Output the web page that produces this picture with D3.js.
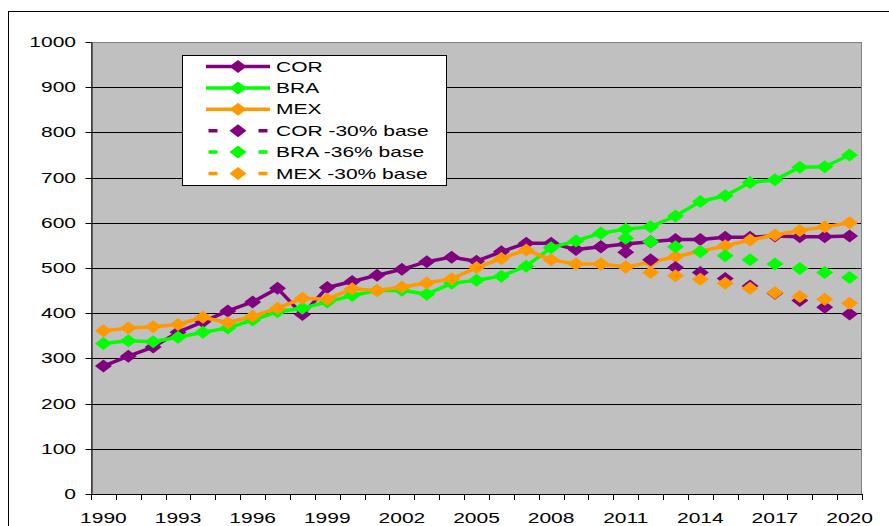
<!DOCTYPE html>
<html><head><meta charset="utf-8">
<script src="https://cdn.jsdelivr.net/npm/d3@7"></script>
<style>html,body{margin:0;padding:0;background:#fff;overflow:hidden}svg{display:block}</style>
</head><body><svg id="c" width="889" height="526"></svg>
<script>
const years = d3.range(1990, 2021);
const xTickLabels = [1990,1993,1996,1999,2002,2005,2008,2011,2014,2017,2020];
const yTicks = [0,100,200,300,400,500,600,700,800,900,1000];
const corValues = [283,305,325,358,381,405,425,455,397,457,470,484,497,514,524,515,536,555,555,541,547,553,558,563,563,568,568,571,569,569,571];
const braValues = [333,339,337,347,358,367,385,403,411,425,439,450,451,442,466,473,482,504,545,560,577,586,591,615,647,660,689,695,723,724,750];
const mexValues = [361,367,370,375,391,379,393,411,433,431,454,450,458,467,476,501,521,540,518,509,509,502,513,525,537,549,562,573,583,591,600];
const scenYears = d3.range(2010, 2021);
const cor30Values = [547,535,518,501,490,477,460,444,428,413,398];
const bra36Values = [577,566,558,547,536,527,518,509,499,490,479];
const mex30Values = [509,502,490,483,475,466,455,445,437,431,422];

const series = [
  {name:"COR", color:"#800080", dashed:false, years:years, values:corValues},
  {name:"BRA", color:"#00FF00", dashed:false, years:years, values:braValues},
  {name:"MEX", color:"#FF9900", dashed:false, years:years, values:mexValues},
  {name:"COR -30% base", color:"#800080", dashed:true, years:scenYears, values:cor30Values},
  {name:"BRA -36% base", color:"#00FF00", dashed:true, years:scenYears, values:bra36Values},
  {name:"MEX -30% base", color:"#FF9900", dashed:true, years:scenYears, values:mex30Values}
];

const svg = d3.select("#c");
const L = 91, R = 862, T = 42, B = 494;
const FONT = "'Liberation Sans', Arial, sans-serif";
const x = d3.scaleBand().domain(years).range([L, R]).padding(0);
const y = d3.scaleLinear().domain([0, 1000]).range([B, T]);
const cx = yr => x(yr) + x.bandwidth() / 2;

// outer chart border
svg.append("rect").attr("x", 8.5).attr("y", 11.5).attr("width", 1000).attr("height", 1000)
  .attr("fill", "#fff").attr("stroke", "#000").attr("stroke-width", 1);

// plot area
svg.append("rect").attr("x", L).attr("y", T).attr("width", R - L).attr("height", B - T)
  .attr("fill", "#C0C0C0");

// gridlines
svg.append("g").selectAll("line").data(yTicks.filter(d => d > 0 && d < 1000)).join("line")
  .attr("x1", L).attr("x2", R)
  .attr("y1", d => Math.round(y(d)) + 0.5).attr("y2", d => Math.round(y(d)) + 0.5)
  .attr("stroke", "#000").attr("stroke-width", 1);

svg.append("rect").attr("x", L + 0.5).attr("y", T + 0.5).attr("width", R - L - 1).attr("height", B - T)
  .attr("fill", "none").attr("stroke", "#808080").attr("stroke-width", 1);

// y axis
const yAxisG = svg.append("g").attr("transform", `translate(${L + 0.5},0)`);
yAxisG.call(d3.axisLeft(y).tickValues(yTicks).tickSize(6).tickSizeOuter(0).tickFormat(d3.format("d")));
yAxisG.select(".domain").attr("stroke", "#000");
yAxisG.selectAll(".tick").attr("transform", d => `translate(0,${Math.round(y(d)) + 0.5})`);
yAxisG.selectAll(".tick line").attr("stroke", "#000");
yAxisG.selectAll(".tick text").remove();
svg.append("g").selectAll("text").data(yTicks).join("text")
  .attr("transform", d => `translate(76,${y(d) + 5}) scale(1.5,1)`)
  .attr("text-anchor", "end").attr("font-family", FONT).attr("font-size", 14).attr("fill", "#000")
  .text(d => d);

// x axis
svg.append("line").attr("x1", L).attr("x2", R).attr("y1", B + 0.5).attr("y2", B + 0.5).attr("stroke", "#000");
const boundaries = years.map(d => x(d)).concat([R]);
svg.append("g").selectAll("line").data(boundaries).join("line")
  .attr("x1", d => Math.round(d) + 0.5).attr("x2", d => Math.round(d) + 0.5)
  .attr("y1", B).attr("y2", B + 6).attr("stroke", "#000");
svg.append("g").selectAll("text").data(xTickLabels).join("text")
  .attr("transform", d => `translate(${cx(d)},523) scale(1.5,1)`)
  .attr("text-anchor", "middle").attr("font-family", FONT).attr("font-size", 14).attr("fill", "#000")
  .text(d => d);

// diamond marker path
const HW = 8.5, HH = 6.5;
const diamond = `M0,${-HH}L${HW},0L0,${HH}L${-HW},0Z`;
const line = d3.line().x(d => cx(d[0])).y(d => y(d[1]));

const g = svg.append("g");
series.forEach(s => {
  const pts = s.years.map((yr, i) => [yr, s.values[i]]);
  const sg = g.append("g");
  if (!s.dashed) {
    sg.append("path").attr("d", line(pts)).attr("fill", "none").attr("stroke", s.color)
      .attr("stroke-width", 3.5).attr("stroke-linejoin", "round");
  } else {
    for (let i = 0; i < pts.length - 1; i++) {
      sg.append("path").attr("d", line([pts[i], pts[i + 1]])).attr("fill", "none")
        .attr("stroke", s.color).attr("stroke-width", 3.5)
        .attr("stroke-dasharray", "9,16").attr("stroke-dashoffset", 4.5);
    }
  }
  sg.selectAll("path.m").data(pts).join("path").attr("class", "m")
    .attr("d", diamond).attr("transform", d => `translate(${cx(d[0])},${y(d[1])})`)
    .attr("fill", s.color);
});

// legend
const lg = svg.append("g");
lg.append("rect").attr("x", 182.5).attr("y", 55.5).attr("width", 264).attr("height", 130)
  .attr("fill", "#fff").attr("stroke", "#000").attr("stroke-width", 1);
series.forEach((s, i) => {
  const yy = 66.5 + i * 21.4;
  if (!s.dashed) {
    lg.append("line").attr("x1", 206).attr("x2", 270).attr("y1", yy).attr("y2", yy)
      .attr("stroke", s.color).attr("stroke-width", 3.5);
  } else {
    lg.append("line").attr("x1", 208.5).attr("x2", 268).attr("y1", yy).attr("y2", yy)
      .attr("stroke", s.color).attr("stroke-width", 3.5).attr("stroke-dasharray", "9,16");
  }
  lg.append("path").attr("d", diamond).attr("transform", `translate(238,${yy})`).attr("fill", s.color);
  lg.append("text").attr("transform", `translate(276,${yy + 5}) scale(1.5,1)`)
    .attr("font-family", FONT).attr("font-size", 14).attr("fill", "#000").text(s.name);
});
</script></body></html>
